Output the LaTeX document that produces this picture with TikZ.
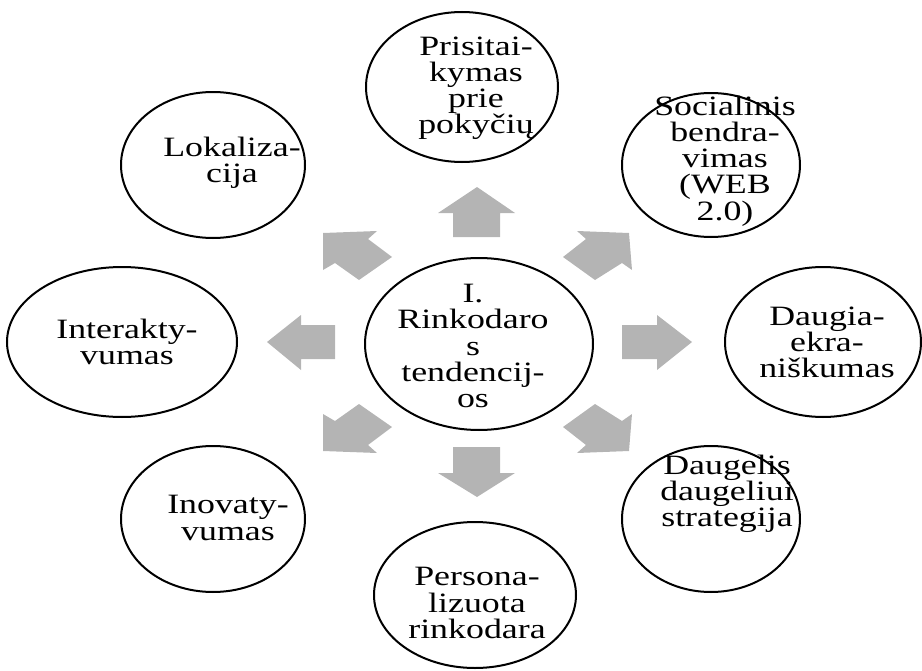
\documentclass[tikz,border=0pt]{standalone}
\usepackage{fontspec}
\setmainfont{Liberation Serif}[FakeStretch=1.28]
\usetikzlibrary{shapes.geometric}
\definecolor{arrowgray}{RGB}{180,180,180}
\tikzset{
  bub/.style={draw=black, line width=1.5pt, ellipse, inner sep=0pt},
  txt/.style={align=center, inner sep=0pt, font=\fontsize{21pt}{19.6pt}\selectfont},
  blockarrow/.style={fill=arrowgray, draw=none}
}
\begin{document}
\begin{tikzpicture}[x=0.75pt, y=-0.75pt]
\useasboundingbox (0,0) rectangle (922,671);
% ellipses
\node[bub, minimum width=2*96*0.75pt, minimum height=2*75*0.75pt] (top) at (462,87) {};
\node[bub, minimum width=2*89*0.75pt, minimum height=2*72*0.75pt] (soc) at (711,165) {};
\node[bub, minimum width=2*98*0.75pt, minimum height=2*75*0.75pt] (right) at (823,342) {};
\node[bub, minimum width=2*89*0.75pt, minimum height=2*73*0.75pt] (dgl) at (711,519) {};
\node[bub, minimum width=2*101*0.75pt, minimum height=2*73*0.75pt] (pers) at (475,595) {};
\node[bub, minimum width=2*92*0.75pt, minimum height=2*73*0.75pt] (inov) at (213,519) {};
\node[bub, minimum width=2*115*0.75pt, minimum height=2*75*0.75pt] (inter) at (122,342) {};
\node[bub, minimum width=2*92*0.75pt, minimum height=2*73*0.75pt] (lok) at (213,165) {};
\node[bub, minimum width=2*114*0.75pt, minimum height=2*86*0.75pt] (cen) at (479,344) {};
% texts
\node[txt] (topT) at (476,88) {Prisitai-\\kymas\\prie\\pokyčių};
\node[txt] (socT) at (725,161) {Socialinis\\bendra-\\vimas\\(WEB\\2.0)};
\node[txt] (rightT) at (827,342) {Daugia-\\ekra-\\niškumas};
\node[txt] (dglT) at (727,494) {Daugelis\\daugeliui\\strategija};
\node[txt] (persT) at (477,603) {Persona-\\lizuota\\rinkodara};
\node[txt] (inovT) at (228,518) {Inovaty-\\vumas};
\node[txt] (interT) at (127,342) {Interakty-\\vumas};
\node[txt] (lokT) at (232,163) {Lokaliza-\\cija};
\node[txt] (cenT) at (473,346) {I.\\Rinkodaro\\s\\tendencij-\\os};
% block arrows
\fill[blockarrow] (453,237) -- (453,213) -- (438,213) -- (477,187) -- (515,213) -- (500,213) -- (500,237) -- cycle;
\fill[blockarrow] (453,447) -- (500,447) -- (500,473) -- (515,473) -- (477,497) -- (438,473) -- (453,473) -- cycle;
\fill[blockarrow] (335,325) -- (301,325) -- (301,315) -- (267,342) -- (301,370) -- (301,359) -- (335,359) -- cycle;
\fill[blockarrow] (622,325) -- (657,325) -- (657,315) -- (692,342) -- (657,370) -- (657,359) -- (622,359) -- cycle;
\fill[blockarrow] (323,233) -- (377,231) -- (368,239) -- (392,257) -- (359,280) -- (335,263) -- (323,270) -- cycle;
\fill[blockarrow] (629,233) -- (577,231) -- (586,239) -- (563,257) -- (595,280) -- (622,263) -- (632,270) -- cycle;
\fill[blockarrow] (323,451) -- (377,453) -- (368,445) -- (392,427) -- (359,404) -- (335,421) -- (323,414) -- cycle;
\fill[blockarrow] (629,451) -- (577,453) -- (586,445) -- (563,427) -- (595,404) -- (622,421) -- (632,414) -- cycle;
\end{tikzpicture}
\end{document}
